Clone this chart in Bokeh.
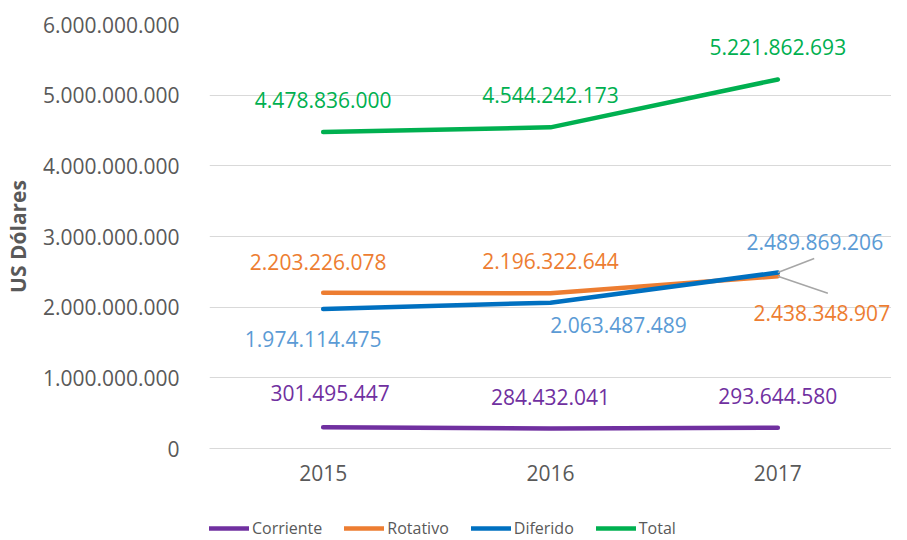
from bokeh.plotting import figure
from bokeh.models import (ColumnDataSource, FactorRange, FixedTicker, LabelSet,
                          Legend, LegendItem)
from bokeh.core.properties import value
from bokeh.transform import dodge
from bokeh.layouts import column
from bokeh.embed import file_html
from bokeh.resources import INLINE

years = ["2015", "2016", "2017"]
corriente = [301495447, 284432041, 293644580]
rotativo = [2203226078, 2196322644, 2438348907]
diferido = [1974114475, 2063487489, 2489869206]
total = [4478836000, 4544242173, 5221862693]

y_ticks = [0, 1000000000, 2000000000, 3000000000, 4000000000, 5000000000, 6000000000]
y_tick_labels = ["0", "1.000.000.000", "2.000.000.000", "3.000.000.000",
                 "4.000.000.000", "5.000.000.000", "6.000.000.000"]

FONT = "Open Sans"
GREY = "#595959"

def fmt(v):
    return f"{v:,}".replace(",", ".")

p = figure(width=891, height=492, x_range=FactorRange(*years, range_padding=0),
           y_range=(0, 6000000000), output_backend="svg", toolbar_location=None,
           min_border_left=199, min_border_right=0, min_border_top=24,
           min_border_bottom=44)
p.outline_line_color = None
p.background_fill_color = "white"

p.xgrid.grid_line_color = None
p.ygrid.grid_line_color = "#D9D9D9"
p.ygrid.grid_line_width = 1.2

p.yaxis.ticker = FixedTicker(ticks=y_ticks)
p.yaxis.major_label_overrides = {t: l for t, l in zip(y_ticks, y_tick_labels)}
for ax in (p.xaxis[0], p.yaxis[0]):
    ax.axis_line_color = None
    ax.major_tick_line_color = None
    ax.minor_tick_line_color = None
    ax.major_label_text_font = FONT
    ax.major_label_text_font_size = "21px"
    ax.major_label_text_color = GREY
p.xaxis.axis_line_color = "#D9D9D9"
p.yaxis.major_label_standoff = 24
p.xaxis.major_label_standoff = 10
p.yaxis.axis_label = "US Dólares"
p.yaxis.axis_label_text_font = FONT
p.yaxis.axis_label_text_font_style = "bold"
p.yaxis.axis_label_text_font_size = "21px"
p.yaxis.axis_label_text_color = GREY
p.yaxis.axis_label_standoff = 8

series = [
    ("Total", total, "#00B050", "#00B050"),
    ("Corriente", corriente, "#7030A0", "#7030A0"),
    ("Rotativo", rotativo, "#ED7D31", "#ED7D31"),
    ("Diferido", diferido, "#0070C0", "#5B9BD5"),
]
# label offsets in screen pixels (x right, y up)
offsets = {
    "Total": ([0, 0, 0], [32, 32, 32]),
    "Corriente": ([7, 0, 0], [34, 31, 32]),
    "Rotativo": ([-5, 0, 44], [31, 32, -37]),
    "Diferido": ([-10, 68, 37], [-30, -22, 31]),
}

for name, vals, col, lcol in series:
    src = ColumnDataSource(dict(x=years, y=vals, lab=[fmt(v) for v in vals],
                                xo=offsets[name][0], yo=offsets[name][1]))
    p.line("x", "y", source=src, line_color=col, line_width=4.5,
           line_cap="round", line_join="round")
    p.add_layout(LabelSet(x="x", y="y", text="lab", source=src, x_offset="xo",
                          y_offset="yo", text_align="center",
                          text_baseline="middle", text_font=value(FONT),
                          text_font_size="21px", text_color=lcol))

# leader lines for the 2017 labels of Diferido and Rotativo
px_to_val = 6000000000 / 424
p.segment(x0="x0", y0="y0", x1=dodge("x0", 0.16, range=p.x_range), y1="y1",
          source=ColumnDataSource(dict(x0=[years[2]], y0=[diferido[2]],
                                       y1=[diferido[2] + 14 * px_to_val])),
          line_color="#A6A6A6", line_width=1.5)
p.segment(x0="x0", y0="y0", x1=dodge("x0", 0.22, range=p.x_range), y1="y1",
          source=ColumnDataSource(dict(x0=[years[2]], y0=[rotativo[2]],
                                       y1=[rotativo[2] - 17 * px_to_val])),
          line_color="#A6A6A6", line_width=1.5)

# legend strip below the chart (series drawn off-range so only the key shows)
lg = figure(width=891, height=48, output_backend="svg", toolbar_location=None,
            x_axis_type=None, y_axis_type=None, min_border=0,
            x_range=(0, 1), y_range=(0, 1))
lg.outline_line_color = None
lg.grid.grid_line_color = None
leg_renderers = {}
for name, vals, col, lcol in series:
    leg_renderers[name] = lg.line(x=list(range(len(vals))), y=vals,
                                  line_color=col, line_width=4.5,
                                  line_cap="round")

legend = Legend(items=[LegendItem(label=n, renderers=[leg_renderers[n]])
                       for n in ["Corriente", "Rotativo", "Diferido", "Total"]],
                orientation="horizontal", location=(0, 1),
                glyph_width=40, glyph_height=20, label_standoff=3, spacing=22,
                label_text_font=FONT, label_text_font_size="16px",
                label_text_color=GREY, border_line_color=None,
                background_fill_alpha=0, padding=0, margin=0)
lg.add_layout(legend, "center")

layout = column(p, lg, spacing=0)
open("out.html", "w").write(file_html(layout, INLINE))
